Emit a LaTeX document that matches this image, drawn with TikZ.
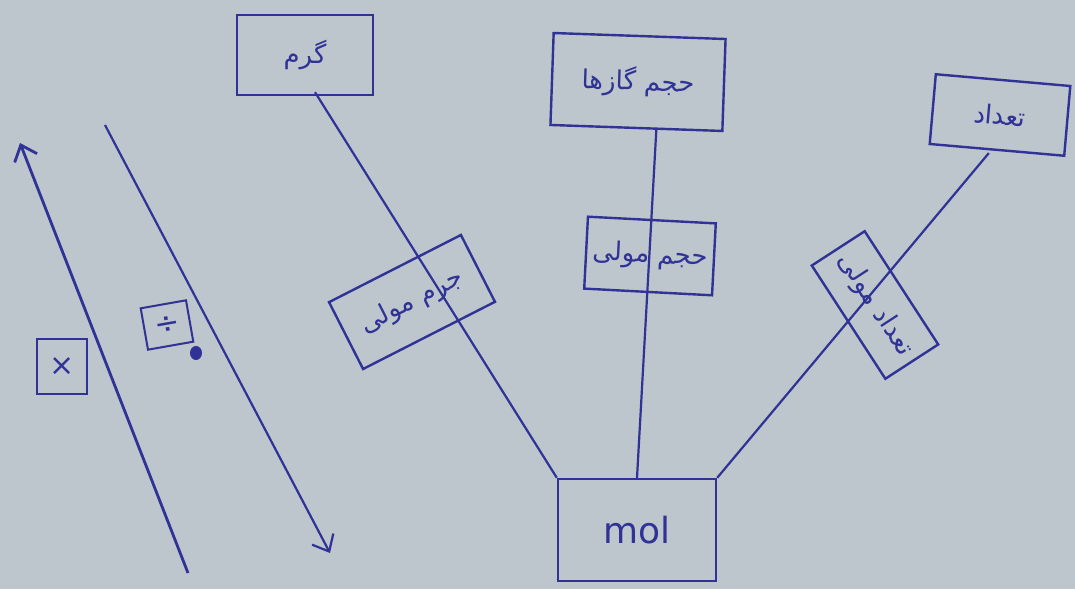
\documentclass[tikz,border=0pt]{standalone}
\usepackage{fontspec}
\usetikzlibrary{arrows.meta,calc}
\TeXXeTstate=1
\newfontfamily\arabicfont[Script=Arabic]{DejaVu Sans}
\setsansfont{DejaVu Sans}
\definecolor{paper}{RGB}{188,198,204}
\definecolor{ink}{RGB}{48,50,150}
\tikzset{
  box/.style={draw=ink, line width=2.4pt, inner sep=0pt, text=ink, font=\arabicfont\fontsize{26}{30}\selectfont},
  link/.style={draw=ink, line width=2.2pt},
  opbox/.style={draw=ink, line width=2pt, inner sep=0pt, text=ink, font=\sffamily\fontsize{30}{32}\selectfont},
}
\begin{document}
\begin{tikzpicture}[x=1pt,y=1pt]
\fill[paper] (0,0) rectangle (1075,589);
\useasboundingbox (0,0) rectangle (1075,589);

% top boxes
\node[box, minimum width=136pt, minimum height=80pt] (gram) at (305,534) {\beginR گرم\endR};
\node[box, minimum width=172pt, minimum height=92pt, rotate=-2] (vol) at (638,507) {\beginR حجم گازها\endR};
\node[box, minimum width=135pt, minimum height=70pt, rotate=-5] (count) at (1000,474) {\beginR تعداد\endR};

% bottom box
\node[box, minimum width=158pt, minimum height=102pt, font=\sffamily\fontsize{36}{38}\selectfont] (mol) at (637,59) {mol};

% connectors
\coordinate (gs) at ($(gram.south)+(10,4)$);
\coordinate (vs) at ($(vol.south)+(20,0)$);
\coordinate (cs) at ($(count.south)+(-8,-2)$);
\draw[link] (gs) -- (mol.north west);
\draw[link] (vs) -- (mol.north);
\draw[link] (cs) -- (mol.north east);

% middle labels
\node[box, minimum width=148pt, minimum height=75pt, rotate=27] (mmass) at (412,287) {\beginR جرم مولی\endR};
\node[box, minimum width=128pt, minimum height=72pt, rotate=-3] (mvol) at (650,333) {\beginR حجم مولی\endR};
\node[box, minimum width=135pt, minimum height=63pt, rotate=-57] (cmol) at (875,284) {\beginR تعداد مولی\endR};

% left arrows
\coordinate (lb) at (188,16);
\coordinate (lt) at (20,446);
\draw[link, line width=2.8pt, -{Straight Barb[length=14pt,width=24pt]}] (lb) -- (lt);
\coordinate (rt) at (105,464);
\coordinate (rb) at (330,36);
\draw[link, -{Straight Barb[length=14pt,width=24pt]}] (rt) -- (rb);

\node[opbox, minimum width=50pt, minimum height=55pt] (times) at (62,222) {×};
\node[opbox, minimum width=46pt, minimum height=42pt, rotate=10] (div) at (167,264) {÷};
\fill[ink] (196,236) ellipse (6pt and 7pt);
\end{tikzpicture}
\end{document}
